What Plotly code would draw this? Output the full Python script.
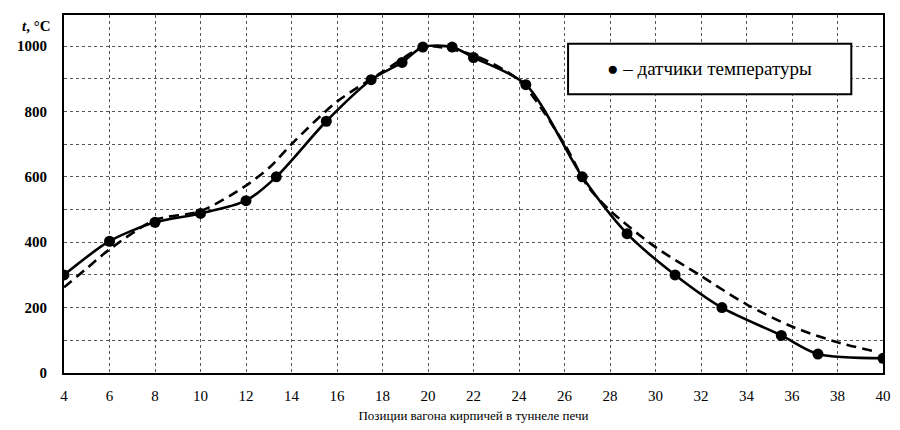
import plotly.graph_objects as go

# Sensor readings (solid curve with dots)
sensor_pos = [4, 6, 8, 10, 12, 13.33, 15.53, 17.5, 18.86, 19.77, 21.06, 22, 24.3, 26.78, 28.75, 30.86, 32.92, 35.53, 37.14, 40]
sensor_temp = [300, 403, 461, 488, 527, 600, 770, 897, 950, 997, 997, 965, 882, 600, 426, 300, 200, 115, 58, 45]

# Model curve (dashed)
model_pos = [4, 5, 6, 8, 10, 12, 13.1, 14, 16, 18, 19.5, 20, 22, 24, 26, 27, 28, 30, 32, 34, 36, 38, 39.6]
model_temp = [262, 320, 378, 468, 495, 573, 633, 700, 830, 921, 988, 1000, 972, 895, 700, 573, 497, 385, 297, 210, 142, 94, 67]

x_ticks = list(range(4, 41, 2))
y_ticks = [0, 200, 400, 600, 800, 1000]

serif = "Times New Roman, Liberation Serif, DejaVu Serif, serif"
grid_col = "#555555"

fig = go.Figure()
fig.add_trace(go.Scatter(
    x=model_pos, y=model_temp, mode="lines",
    line=dict(color="black", width=2.6, dash="10px,6px", shape="spline", smoothing=0.8),
    showlegend=False, hoverinfo="skip"))
fig.add_trace(go.Scatter(
    x=sensor_pos, y=sensor_temp, mode="lines+markers",
    line=dict(color="black", width=2.6, shape="spline", smoothing=0.8),
    marker=dict(color="black", size=11),
    showlegend=False))

fig.update_layout(
    width=900, height=430,
    margin=dict(l=64, r=9, t=15, b=54),
    paper_bgcolor="white", plot_bgcolor="white",
    font=dict(family=serif, color="black"),
    xaxis=dict(
        range=[4, 40], tickvals=x_ticks, ticktext=[str(v) for v in x_ticks],
        showgrid=True, gridcolor=grid_col, griddash="dot", gridwidth=1,
        showline=True, linecolor="black", linewidth=2, mirror=True,
        zeroline=False, ticks="", ticklabelstandoff=8,
        tickfont=dict(family=serif, size=15),
        title=dict(text="Позиции вагона кирпичей в туннеле печи",
                   font=dict(family=serif, size=13), standoff=8),
    ),
    yaxis=dict(
        range=[0, 1095], tickvals=y_ticks,
        showgrid=True, gridcolor=grid_col, griddash="dot", gridwidth=1,
        minor=dict(dtick=100, tick0=0, showgrid=True, gridcolor=grid_col, griddash="dot", gridwidth=1),
        showline=True, linecolor="black", linewidth=2, mirror=True,
        zeroline=False, ticks="", ticklabelstandoff=12,
        tickfont=dict(family=serif, size=15, weight="bold"),
    ),
)

# axis unit label
fig.add_annotation(
    xref="paper", yref="paper", x=-0.013, y=0.97, xanchor="right", yanchor="middle",
    text="<i>t</i>, °C", showarrow=False, font=dict(family=serif, size=15, weight="bold"))

# legend box
fig.add_shape(type="rect", xref="paper", yref="paper",
              x0=(573 - 64) / 827, x1=(859 - 64) / 827,
              y0=(376 - 95) / 361, y1=(376 - 44) / 361,
              line=dict(color="black", width=2), fillcolor="white", layer="above")
fig.add_annotation(
    xref="paper", yref="paper", x=(716 - 64) / 827, y=(376 - 69) / 361,
    xanchor="center", yanchor="middle", showarrow=False,
    text="● – датчики температуры", font=dict(family=serif, size=19, color="black"))

fig.write_html("out.html", config={"displayModeBar": False},
               post_script="document.body.style.margin='0';")
